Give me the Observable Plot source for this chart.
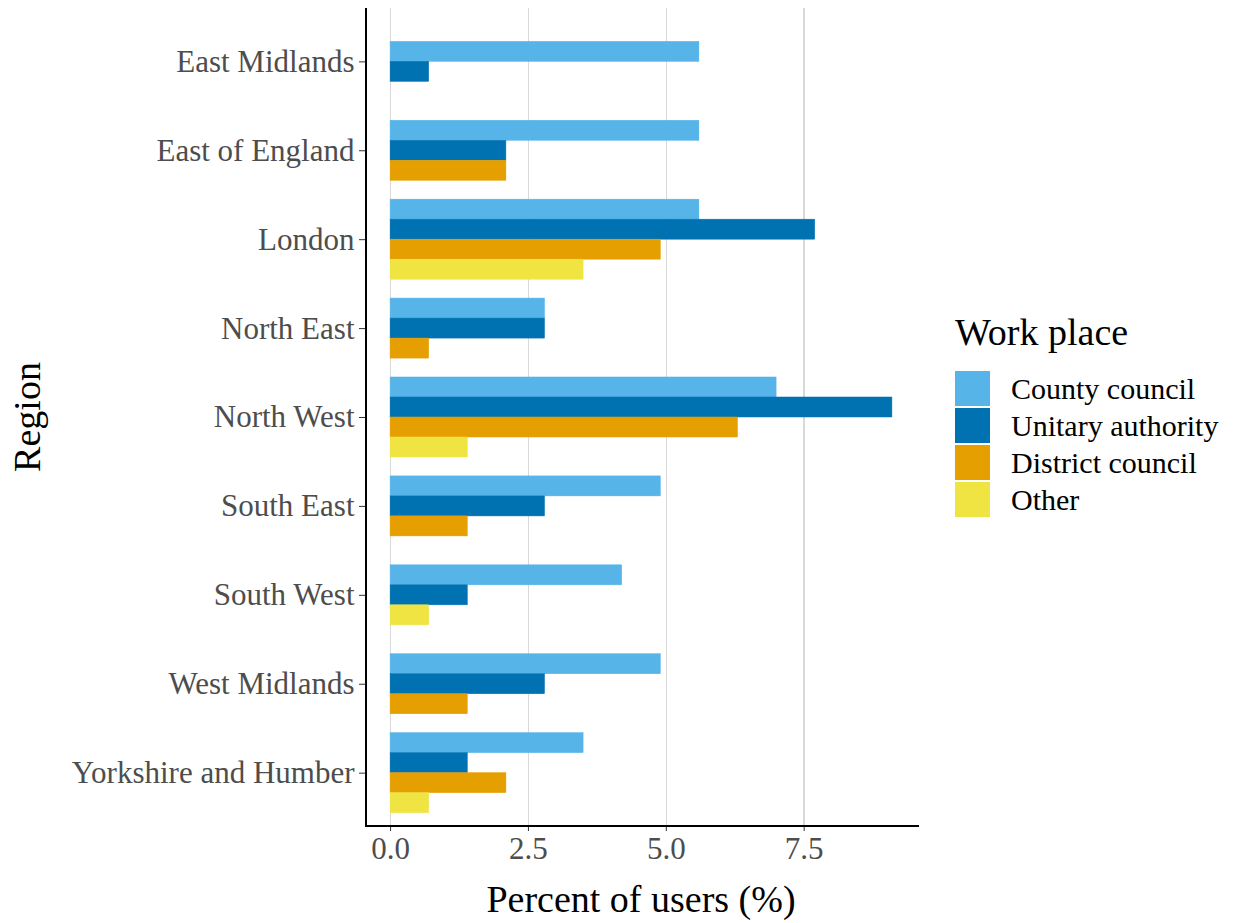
<!DOCTYPE html>
<html><head><meta charset="utf-8">
<script src="https://cdn.jsdelivr.net/npm/d3@7"></script>
<script src="https://cdn.jsdelivr.net/npm/@observablehq/plot@0.6"></script>
<style>
body{margin:0;background:#fff;font-family:"Liberation Serif","Times New Roman",serif;}
#wrap{position:relative;width:1239px;height:923px;overflow:hidden;}
#chart{position:absolute;left:0;top:0;width:930px;height:923px;}
#chart svg{max-width:none;}
#ytitle{position:absolute;left:27px;top:417px;transform:translate(-50%,-50%) rotate(-90deg);font-size:38px;color:#000;white-space:nowrap;line-height:1;}
#xtitle{position:absolute;left:641px;top:880px;transform:translateX(-50%);font-size:38px;color:#000;white-space:nowrap;line-height:1;}
#legend{position:absolute;left:955px;top:312px;}
#legend .title{font-size:38px;line-height:40px;margin-bottom:18px;color:#000;}
#legend .row{display:flex;align-items:center;height:37px;}
#legend .key{width:35px;height:35px;margin-right:21px;}
#legend .lab{font-size:30px;color:#000;line-height:1;}
</style></head><body>
<div id="wrap">
  <div id="chart"></div>
  <div id="ytitle">Region</div>
  <div id="xtitle">Percent of users (%)</div>
  <div id="legend"></div>
</div>
<script>
const regions = ["East Midlands","East of England","London","North East","North West","South East","South West","West Midlands","Yorkshire and Humber"];
const workplaces = ["County council","Unitary authority","District council","Other"];
const colors = ["#56B4E9","#0072B2","#E69F00","#F0E442"];
const countyCouncil    = [5.6, 5.6, 5.6, 2.8, 7.0, 4.9, 4.2, 4.9, 3.5];
const unitaryAuthority = [0.7, 2.1, 7.7, 2.8, 9.1, 2.8, 1.4, 2.8, 1.4];
const districtCouncil  = [null, 2.1, 4.9, 0.7, 6.3, 1.4, null, 1.4, 2.1];
const otherPlace       = [null, null, 3.5, null, 1.4, null, 0.7, null, 0.7];
const xTicks = [0, 2.5, 5, 7.5];

// dodge (ggplot position_dodge, preserve = "single"): present bars centred on the region
const series = [countyCouncil, unitaryAuthority, districtCouncil, otherPlace];
const barW = 0.9 / workplaces.length;
const rows = [];
regions.forEach((r, i) => {
  const present = series.map((s, j) => ({j, v: s[i]})).filter(d => d.v != null);
  present.forEach((d, k) => {
    const off = (k - present.length / 2) * barW;
    rows.push({region: r, workplace: workplaces[d.j], value: d.v, y1: off, y2: off + barW});
  });
});
const maxV = d3.max(rows, d => d.value);
const pad = maxV * 0.05;

// panel geometry (ggplot-like discrete expansion of 0.6 band)
const W = 930, H = 923, panelTop = 8, panelBottom = 97;
const step = (H - panelTop - panelBottom) / (regions.length + 0.2);
const gap = 0.1 * step;

const plot = Plot.plot({
  width: W, height: H,
  marginLeft: 365, marginRight: 13, marginTop: panelTop + gap, marginBottom: panelBottom + gap,
  style: {fontFamily: '"Liberation Serif", "Times New Roman", serif', background: "white"},
  x: {domain: [-pad, maxV + pad]},
  y: {domain: [-0.5, 0.5], reverse: true, axis: null},
  fy: {domain: regions, padding: 0, round: false, label: null},
  color: {domain: workplaces, range: colors},
  marks: [
    Plot.ruleX(xTicks, {stroke: "#d9d9d9", strokeWidth: 1.6, insetTop: -gap, insetBottom: -gap, shapeRendering: "crispEdges"}),
    Plot.rect(rows, {x1: 0, x2: "value", y1: "y1", y2: "y2", fy: "region", fill: "workplace", stroke: "workplace", strokeWidth: 0.5}),
    Plot.axisFy({anchor: "left", label: null, tickSize: 6, tickPadding: 5, fontSize: 31, fill: "#4d4d4d", stroke: "#333"}),
    Plot.axisX({ticks: xTicks, tickFormat: d3.format(".1f"), tickSize: 5, tickPadding: 5, dy: gap, fontSize: 31, fill: "#4d4d4d", stroke: "#333", label: null}),
    Plot.frame({anchor: "left", stroke: "#000", strokeWidth: 2, insetTop: -gap, insetBottom: -gap, shapeRendering: "crispEdges"}),
    Plot.frame({anchor: "bottom", facetAnchor: "bottom", stroke: "#000", strokeWidth: 2, insetBottom: -gap, shapeRendering: "crispEdges"})
  ]
});
document.getElementById("chart").appendChild(plot);

const leg = document.getElementById("legend");
const t = document.createElement("div");
t.className = "title"; t.textContent = "Work place";
leg.appendChild(t);
workplaces.forEach((w, i) => {
  const row = document.createElement("div"); row.className = "row";
  const k = document.createElement("div"); k.className = "key"; k.style.background = colors[i];
  const l = document.createElement("div"); l.className = "lab"; l.textContent = w;
  row.appendChild(k); row.appendChild(l); leg.appendChild(row);
});
</script>
</body></html>
